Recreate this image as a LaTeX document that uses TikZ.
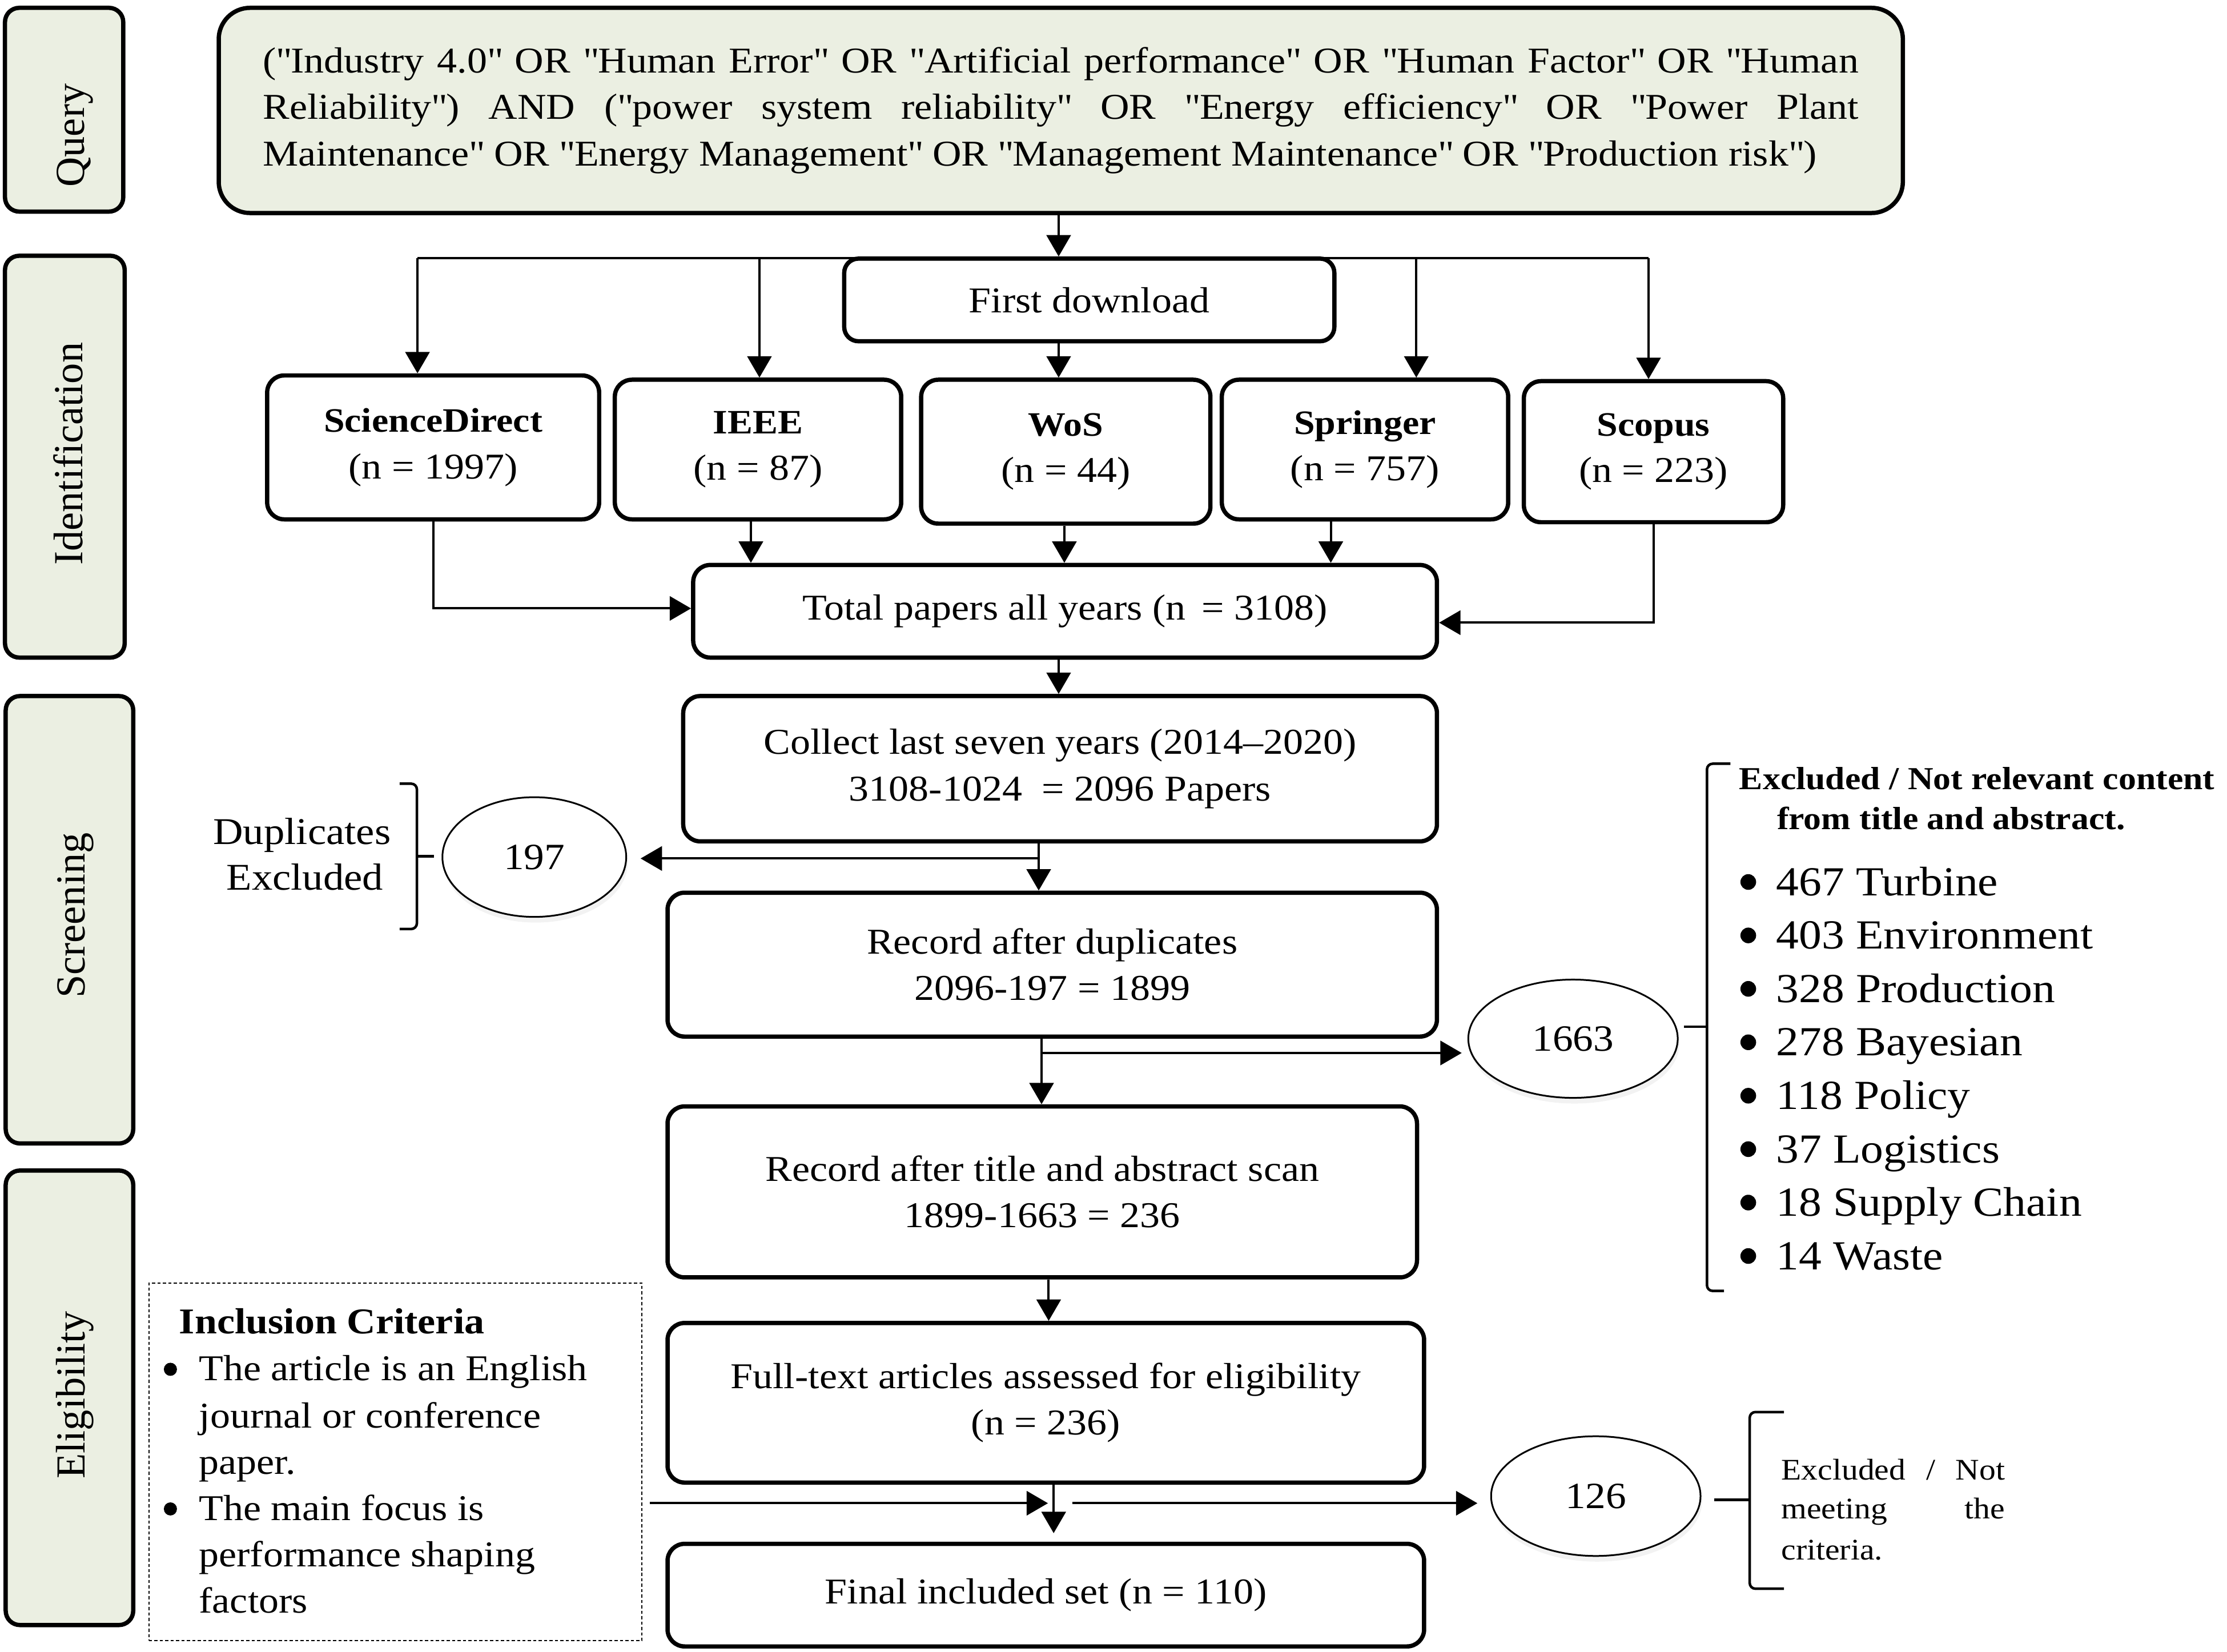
\documentclass[tikz,border=0pt]{standalone}
\usepackage{fontspec}
\setmainfont{Liberation Serif}[FakeStretch=1.1]
\newfontfamily\sidefont{Liberation Serif}
\usetikzlibrary{arrows.meta,shapes.geometric,shadows,calc}
\definecolor{qgreen}{RGB}{235,239,226}
\newcommand\fmain{\fontsize{25.5pt}{32.5pt}\selectfont}
\newcommand\fsrc{\fontsize{24pt}{32pt}\selectfont}
\newcommand\fitem{\fontsize{29pt}{37.5pt}\selectfont}
\newcommand\fttl{\fontsize{22.5pt}{28pt}\selectfont}
\newcommand\fcrit{\fontsize{21pt}{28pt}\selectfont}
\newcommand\fsidetxt{\sidefont\fontsize{29pt}{32pt}\selectfont}
\newcommand\fnum{\fontsize{26pt}{30pt}\selectfont}
\newcommand\fdup{\fontsize{26.5pt}{32pt}\selectfont}
\newcommand\sq{\XeTeXglyph\XeTeXcharglyph34\relax}
\begin{document}
\begin{tikzpicture}[x=1pt,y=-1pt,
  box/.style={draw, rectangle, line width=3pt, rounded corners=12pt, fill=white, inner sep=0pt, align=center, font=\fmain},
  gbox/.style={box, fill=qgreen, rounded corners=22pt},
  sidebox/.style={draw, rectangle, line width=3pt, rounded corners=10pt, fill=qgreen, inner sep=0pt},
  sidetxt/.style={rotate=90, anchor=base, font=\fsidetxt, inner sep=0pt},
  conn/.style={line width=1.6pt},
  arr/.style={conn, -{Triangle[length=15pt,width=17pt]}},
  ell/.style={ellipse, draw, line width=1.2pt, fill=white, inner sep=0pt, font=\fnum,
     drop shadow={opacity=0.1, shadow xshift=1pt, shadow yshift=-4pt}},
  brk/.style={line width=1.8pt, rounded corners=4pt},
  txt/.style={anchor=base west, inner sep=0pt}
]
\useasboundingbox (0,0) rectangle (1563,1159.06);

% side labels
\node[sidebox, minimum width=83, minimum height=143] (qlab) at (45,77) {};
\node[sidebox, minimum width=84, minimum height=282] (ilab) at (45.5,320.5) {};
\node[sidebox, minimum width=89.5, minimum height=314] (slab) at (48.75,645.5) {};
\node[sidebox, minimum width=89.5, minimum height=319] (elab) at (48.75,981) {};
\node[sidetxt] (qt) at (59,95) {Query};
\node[sidetxt] (it) at (58,318.5) {Identification};
\node[sidetxt] (st) at (59.5,642.5) {Screening};
\node[sidetxt] (et) at (59.5,979) {Eligibility};

% query
\node[gbox, minimum width=1182, minimum height=144] (query) at (744.5,77.5)
 {\makebox[1120pt][s]{(\sq{}Industry 4.0\sq{} OR \sq{}Human Error\sq{} OR \sq{}Artificial performance\sq{} OR \sq{}Human Factor\sq{} OR \sq{}Human}\\
  \makebox[1120pt][s]{Reliability\sq{}) AND (\sq{}power system reliability\sq{} OR \sq{}Energy efficiency\sq{} OR \sq{}Power Plant}\\
  \makebox[1120pt][l]{Maintenance\sq{} OR \sq{}Energy Management\sq{} OR \sq{}Management Maintenance\sq{} OR \sq{}Production risk\sq{})}};

\coordinate (hl) at (293,181);
\coordinate (hi) at (533,181);
\coordinate (hs) at (994,181);
\coordinate (hr) at (1157,181);
\draw[conn] (hl) -- (hr);

\node[box, rounded corners=10pt, minimum width=344, minimum height=58] (first) at (764.5,210.5) {First download};

% sources
\node[box, minimum width=233, minimum height=101] (sd) at (304,314) {{\fsrc\bfseries ScienceDirect}\\(n = 1997)};
\node[box, minimum width=201, minimum height=98] (ieee) at (532,315.5) {{\fsrc\bfseries IEEE}\\(n = 87)};
\node[box, minimum width=203, minimum height=101] (wos) at (748,317) {{\fsrc\bfseries WoS}\\(n = 44)};
\node[box, minimum width=201, minimum height=98] (spr) at (958,315.5) {{\fsrc\bfseries Springer}\\(n = 757)};
\node[box, minimum width=182, minimum height=99] (sco) at (1160.5,317) {{\fsrc\bfseries Scopus}\\(n = 223)};

% main flow
\node[box, minimum width=522, minimum height=65] (total) at (747.5,429) {Total papers all years (n~\,= 3108)};
\node[box, minimum width=529, minimum height=102] (collect) at (744,539.5) {Collect last seven years (2014–2020)\\3108-1024~ = 2096 Papers};
\node[box, minimum width=540, minimum height=101] (recdup) at (738.5,677) {Record after duplicates\\2096-197 = 1899};
\node[box, minimum width=526, minimum height=120] (rectitle) at (731.5,836.5) {Record after title and abstract scan\\1899-1663 = 236};
\node[box, minimum width=531, minimum height=112] (full) at (734,984.5) {Full-text articles assessed for eligibility\\(n = 236)};
\node[box, minimum width=531, minimum height=72] (final) at (734,1119.5) {Final included set (n = 110)};

% ellipses
\node[ell, minimum width=129, minimum height=84] (e197) at (375,601.5) {197};
\node[ell, minimum width=147, minimum height=83] (e1663) at (1104,729) {1663};
\node[ell, minimum width=147, minimum height=84] (e126) at (1120,1050) {126};

% inclusion box
\node[draw, rectangle, line width=0.9pt, dash pattern=on 2.2pt off 1.6pt, minimum width=346, minimum height=251, inner sep=0pt] (incl) at (277.5,1026) {};
\node[txt, font=\fmain\bfseries] (inc0) at (125.6,936) {Inclusion Criteria};
\node[txt, font=\fmain] (inc1) at (139.5,969) {The article is an English};
\node[txt, font=\fmain] (inc2) at (139.5,1002) {journal or conference};
\node[txt, font=\fmain] (inc3) at (139.5,1034.5) {paper.};
\node[txt, font=\fmain] (inc4) at (139.5,1067) {The main focus is};
\node[txt, font=\fmain] (inc5) at (139.5,1099.5) {performance shaping};
\node[txt, font=\fmain] (inc6) at (139.5,1132) {factors};
\fill (119.6,961) circle[radius=4.6pt];
\fill (119.6,1059) circle[radius=4.6pt];

% duplicates text
\node[anchor=base, inner sep=0pt, font=\fdup] (dup1) at (212,592.5) {Duplicates};
\node[anchor=base, inner sep=0pt, font=\fdup] (dup2) at (214,624.5) {Excluded};

% exclusion list
\node[txt, font=\fttl\bfseries] (ext1) at (1220.5,554) {Excluded / Not relevant content};
\node[txt, font=\fttl\bfseries] (ext2) at (1247,582) {from title and abstract.};
\foreach \t [count=\i] in {467 Turbine, 403 Environment, 328 Production, 278 Bayesian, 118 Policy, 37 Logistics, 18 Supply Chain, 14 Waste}{
  \node[txt, font=\fitem] (ex\i) at (1246.5,{628.5+37.5*(\i-1)}) {\t};
  \fill (1227,{619+37.5*(\i-1)}) circle[radius=5.5pt];
}

% 126 text
\node[txt, font=\fcrit] (crit1) at (1250,1038.7) {\makebox[157pt][s]{Excluded / Not}};
\node[txt, font=\fcrit] (crit2) at (1250,1066) {\makebox[157pt][s]{meeting the}};
\node[txt, font=\fcrit] (crit3) at (1250,1094.6) {criteria.};

% brackets
\draw[brk] (280.5,550) -- (292.6,550) -- (292.6,652) -- (280.5,652);
\draw[brk] (292.6,601) -- (304.6,601);
\draw[brk] (1214.5,536) -- (1198,536) -- (1198,906) -- (1210,906);
\draw[brk] (1198,720.6) -- (1182,720.6);
\draw[brk] (1252,991) -- (1228,991) -- (1228,1115) -- (1252,1115);
\draw[brk] (1228,1052.6) -- (1203,1052.6);

% connectors
\draw[arr] (hl) -- (hl |- sd.north);
\draw[arr] (hi) -- (hi |- ieee.north);
\draw[arr] (hs) -- (hs |- spr.north);
\draw[arr] (hr) -- (hr |- sco.north);
\coordinate (c1) at (743,0);
\draw[arr] (c1 |- query.south) -- (c1 |- first.north);
\draw[arr] (c1 |- first.south) -- (c1 |- wos.north);
\draw[arr] ([xshift=-5pt]ieee.south) -- ([xshift=-5pt]ieee.south |- total.north);
\draw[arr] ([xshift=-1pt]wos.south) -- ([xshift=-1pt]wos.south |- total.north);
\draw[arr] ([xshift=-24pt]spr.south) -- ([xshift=-24pt]spr.south |- total.north);
\draw[arr] (sd.south) |- ([yshift=2pt]total.west);
\draw[arr] (sco.south) |- ([yshift=-8pt]total.east);
\draw[arr] (c1 |- total.south) -- (c1 |- collect.north);
\coordinate (c2) at (729,602.5);
\draw[arr] (c2 |- collect.south) -- (c2 |- recdup.north);
\draw[arr] (c2) -- ($(e197.east |- c2)+(9.5,0)$);
\coordinate (c3) at (731,739);
\draw[arr] (c3 |- recdup.south) -- (c3 |- rectitle.north);
\draw[arr] (c3) -- ($(e1663.west |- c3)+(-4,0)$);
\coordinate (c4) at (736,0);
\draw[arr] (c4 |- rectitle.south) -- (c4 |- full.north);
\coordinate (c5) at (739.5,1055);
\draw[arr] (c5 |- full.south) -- ($(c5 |- final.north)+(0,-6)$);
\draw[arr] ($(incl.east |- c5)+(5,0)$) -- ($(c5)+(-4,0)$);
\draw[arr] ($(c5)+(13,0)$) -- ($(e126.west |- c5)+(-9,0)$);
\end{tikzpicture}
\end{document}
